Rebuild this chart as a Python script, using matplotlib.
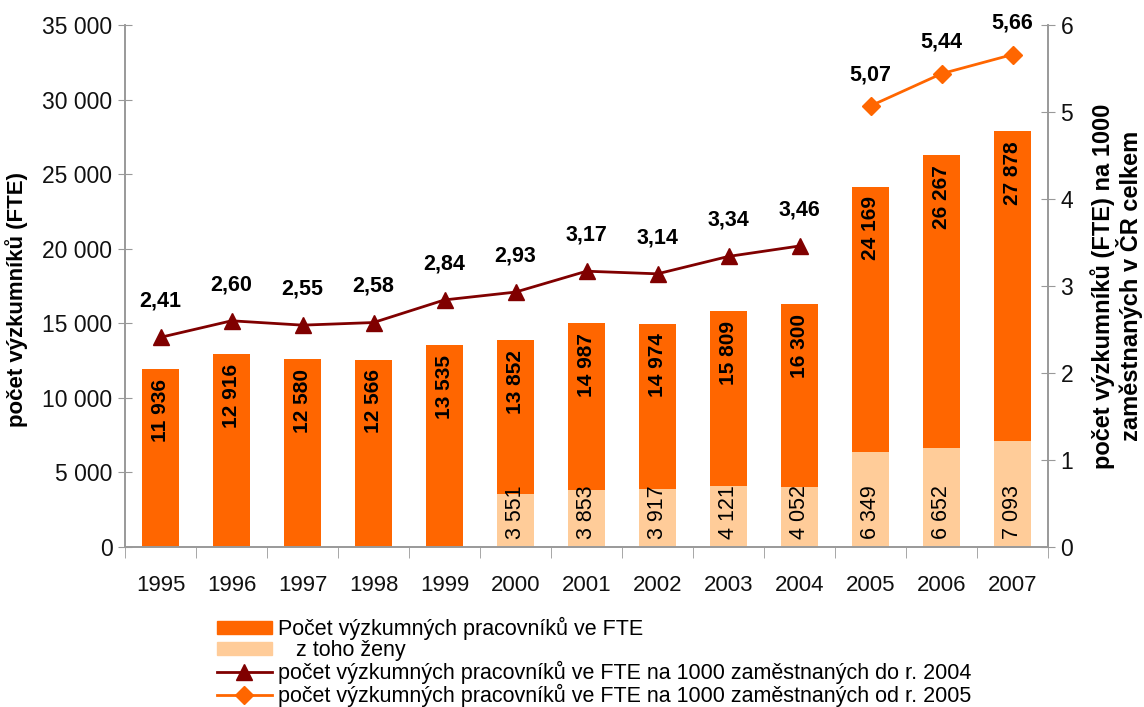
import matplotlib
matplotlib.use("Agg")
import matplotlib.pyplot as plt
from matplotlib.lines import Line2D
from matplotlib.patches import Patch
import numpy as np

plt.rcParams['font.family'] = ['Liberation Sans', 'DejaVu Sans']

years = ['1995', '1996', '1997', '1998', '1999', '2000', '2001', '2002', '2003', '2004', '2005', '2006', '2007']
total = [11936, 12916, 12580, 12566, 13535, 13852, 14987, 14974, 15809, 16300, 24169, 26267, 27878]
women = [None, None, None, None, None, 3551, 3853, 3917, 4121, 4052, 6349, 6652, 7093]
rate_to_2004 = [2.41, 2.60, 2.55, 2.58, 2.84, 2.93, 3.17, 3.14, 3.34, 3.46]
rate_from_2005 = [5.07, 5.44, 5.66]

legend_labels = ['Počet výzkumných pracovníků ve FTE',
                 '   z toho ženy',
                 'počet výzkumných pracovníků ve FTE na 1000 zaměstnaných do r. 2004',
                 'počet výzkumných pracovníků ve FTE na 1000 zaměstnaných od r. 2005']

ORANGE = '#FF6600'
LIGHT = '#FFCC99'
DARKRED = '#800000'
AXC = '#999999'

def fmt(v):
    return f"{v:,}".replace(',', ' ')

fig = plt.figure(figsize=(11.44, 7.07), dpi=100)
ax = fig.add_axes([125/1144, 1-547/707, (1048-125)/1144, (547-25)/707])
ax2 = ax.twinx()

x = np.arange(len(years))
w_vals = np.array([v if v is not None else 0 for v in women], dtype=float)
rest = np.array(total, dtype=float) - w_vals
bw = 0.51
ax.bar(x, w_vals, width=bw, color=LIGHT, zorder=2)
ax.bar(x, rest, width=bw, bottom=w_vals, color=ORANGE, zorder=2)

for i, t in enumerate(total):
    ax.annotate(fmt(t), (x[i], t), xytext=(0, -7), textcoords='offset points',
                rotation=90, ha='center', va='top', fontsize=15, fontweight='bold', color='black')
    if women[i] is not None:
        ax.annotate(fmt(women[i]), (x[i], 0), xytext=(0, 6), textcoords='offset points',
                    rotation=90, ha='center', va='bottom', fontsize=15.5, color='black')

ax.set_xlim(-0.5, len(years) - 0.5)
ax.set_ylim(0, 35000)
ax.set_yticks(np.arange(0, 35001, 5000))
ax.set_yticklabels([fmt(v) for v in range(0, 35001, 5000)])
ax.set_xticks(x)
ax.set_xticklabels(years)
ax.set_xticks(np.arange(-0.5, len(years), 1.0), minor=True)
ax.tick_params(axis='x', which='major', length=0, pad=20, labelsize=16, colors='#111111')
ax.tick_params(axis='x', which='minor', length=8, color=AXC, direction='out')
ax.tick_params(axis='y', direction='inout', length=10, color=AXC, labelsize=16.5, labelcolor='#111111', pad=4)

n1 = len(rate_to_2004)
x1 = x[:n1]
x2 = x[len(years) - len(rate_from_2005):]
ax2.plot(x1, rate_to_2004, color=DARKRED, lw=2, marker='^', markersize=12, zorder=3)
ax2.plot(x2, rate_from_2005, color=ORANGE, lw=2, marker='D', markersize=9, zorder=3)
for xi, v in zip(x1, rate_to_2004):
    ax2.annotate(f"{v:.2f}".replace('.', ','), (xi, v), xytext=(0, 26), textcoords='offset points',
                 ha='center', va='center', fontsize=15.5, fontweight='bold')
for xi, v in zip(x2, rate_from_2005):
    ax2.annotate(f"{v:.2f}".replace('.', ','), (xi, v), xytext=(0, 22.5), textcoords='offset points',
                 ha='center', va='center', fontsize=15.5, fontweight='bold')
ax2.set_ylim(0, 6)
ax2.set_yticks(range(0, 7))
ax2.tick_params(axis='y', direction='inout', length=10, color=AXC, labelsize=16.5, labelcolor='#111111', pad=4)

for a in (ax, ax2):
    a.spines['top'].set_visible(False)
    for s in ('left', 'right', 'bottom'):
        a.spines[s].set_color(AXC)
        a.spines[s].set_linewidth(1.2)

ax.set_ylabel('počet výzkumníků (FTE)', fontsize=16, fontweight='bold')
ax.yaxis.set_label_coords(-0.105, 0.475)
ax2.set_ylabel('počet výzkumníků (FTE) na 1000\nzaměstnaných v ČR celkem', fontsize=17,
               fontweight='bold', labelpad=12, linespacing=1.05)

handles = [Patch(color=ORANGE), Patch(color=LIGHT),
           Line2D([0], [0], color=DARKRED, lw=2, marker='^', markersize=11),
           Line2D([0], [0], color=ORANGE, lw=2, marker='D', markersize=9)]
fig.legend(handles, legend_labels, loc='upper left', bbox_to_anchor=(217/1144, 1-617/707),
           frameon=False, fontsize=15.5, handlelength=2.55, handleheight=0.6, handletextpad=0.28,
           labelspacing=0.0, borderpad=0, borderaxespad=0)

fig.savefig('out.png', dpi=100)
